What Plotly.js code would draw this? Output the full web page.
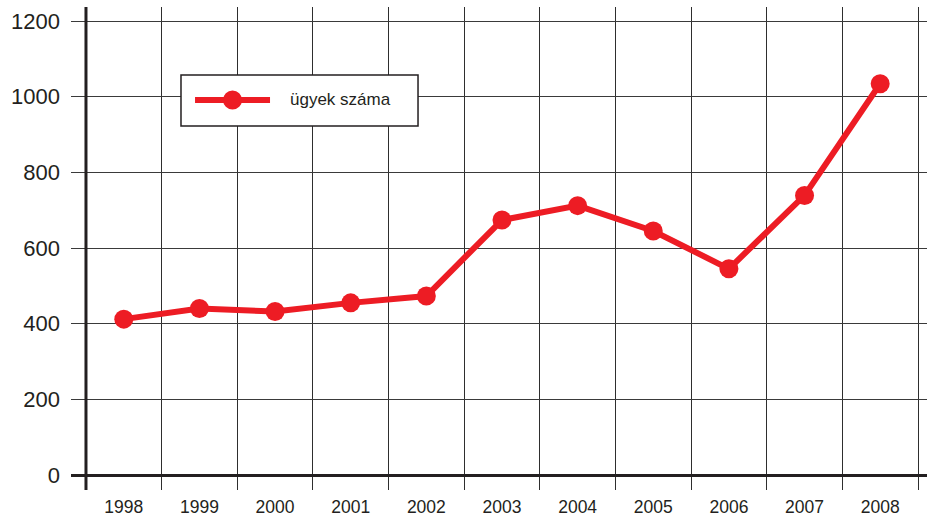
<!DOCTYPE html>
<html>
<head>
<meta charset="utf-8">
<script src="https://cdn.plot.ly/plotly-3.0.1.min.js"></script>
<style>html,body{margin:0;padding:0;background:#fff;}#chart{width:927px;height:517px;}</style>
</head>
<body>
<div id="chart"></div>
<script>
const years = [1998, 1999, 2000, 2001, 2002, 2003, 2004, 2005, 2006, 2007, 2008];
const cases = [412, 440, 432, 455, 473, 674, 712, 645, 545, 739, 1034];
const yTicks = [0, 200, 400, 600, 800, 1000, 1200];
const seriesName = 'ügyek száma';

const red = '#ED1C24';
const ink = '#231F20';
const font = 'Liberation Sans, Arial, sans-serif';

const trace = {
  x: years,
  y: cases,
  type: 'scatter',
  mode: 'lines+markers',
  name: seriesName,
  line: {color: red, width: 6},
  marker: {color: red, size: 19},
  showlegend: false,
  cliponaxis: false
};

const layout = {
  width: 927, height: 517,
  margin: {l: 71, r: 0, t: 7, b: 27},
  paper_bgcolor: '#fff', plot_bgcolor: '#fff',
  font: {family: font, color: ink},
  showlegend: false,
  xaxis: {
    range: [years[0] - 0.698, years[years.length - 1] + 0.619],
    tickmode: 'array',
    tickvals: years,
    ticktext: years.map(String),
    showgrid: false,
    zeroline: false,
    showline: false,
    ticks: '',
    ticklabelstandoff: 4,
    tickfont: {size: 17.5, color: ink, family: font},
    minor: {tick0: years[0] - 0.5, dtick: 1, showgrid: true, gridcolor: '#2e2e2e', gridwidth: 1, ticks: ''},
    fixedrange: true
  },
  yaxis: {
    range: [-39.6, 1237],
    tickmode: 'array',
    tickvals: yTicks,
    ticktext: yTicks.map(String),
    showgrid: true,
    gridcolor: '#3a3a3a',
    gridwidth: 1,
    zeroline: true,
    zerolinecolor: ink,
    zerolinewidth: 3,
    showline: false,
    ticks: '',
    ticklabelstandoff: 10,
    tickfont: {size: 22, color: ink, family: font},
    fixedrange: true
  },
  shapes: [
    {type: 'line', xref: 'x', yref: 'paper', x0: years[0] - 0.5, x1: years[0] - 0.5, y0: 0, y1: 1,
     line: {color: ink, width: 3}, layer: 'above'},
    {type: 'rect', xref: 'paper', yref: 'paper', x0: 0.1285, x1: 0.4054, y0: 0.7536, y1: 0.8592,
     fillcolor: '#fff', line: {color: ink, width: 1.5}, layer: 'above'},
    {type: 'line', xref: 'paper', yref: 'paper', x0: 0.1449, x1: 0.2325, y0: 0.8075, y1: 0.8075,
     line: {color: red, width: 6}, layer: 'above'},
    {type: 'circle', xref: 'paper', yref: 'paper', xsizemode: 'pixel', ysizemode: 'pixel',
     xanchor: 0.1887, yanchor: 0.8075, x0: -9.5, x1: 9.5, y0: -9.5, y1: 9.5,
     fillcolor: red, line: {color: red, width: 0}, layer: 'above'}
  ],
  annotations: [
    {xref: 'paper', yref: 'paper', x: 0.2535, y: 0.8075, xanchor: 'left', yanchor: 'middle',
     text: seriesName, showarrow: false, font: {size: 17, color: ink, family: font}}
  ]
};

Plotly.newPlot('chart', [trace], layout, {displayModeBar: false, staticPlot: true});
</script>
</body>
</html>
